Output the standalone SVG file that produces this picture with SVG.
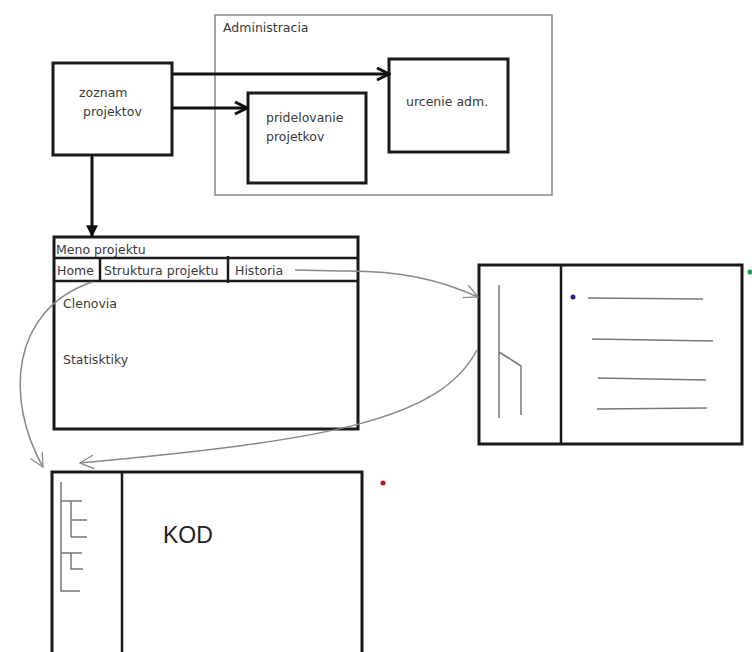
<svg xmlns="http://www.w3.org/2000/svg" width="752" height="652" viewBox="0 0 752 652">
<style>
.box{fill:#fff;stroke:#1a1a1a;stroke-width:3}
.thin{fill:none;stroke:#1a1a1a;stroke-width:2.5}
.t{font-family:"DejaVu Sans","Liberation Sans",sans-serif;font-size:12.5px;fill:#3a3a3a}
.g{fill:none;stroke:#777;stroke-width:1.5}
.arr{fill:none;stroke:#111;stroke-width:3}
.cur{fill:none;stroke:#888;stroke-width:1.5}
</style>
<defs>
<marker id="ah" viewBox="0 0 10 10" refX="9" refY="5" markerWidth="5" markerHeight="5" orient="auto" markerUnits="strokeWidth">
<path d="M1,1 L9,5 L1,9" fill="none" stroke="#111" stroke-width="2"/>
</marker>
<marker id="ahd" viewBox="0 0 10 10" refX="9" refY="5" markerWidth="4" markerHeight="4" orient="auto" markerUnits="strokeWidth">
<path d="M0,0 L10,5 L0,10 Z" fill="#111"/>
</marker>
<marker id="ao" viewBox="0 0 20 20" refX="18" refY="10" markerWidth="13" markerHeight="13" orient="auto" markerUnits="strokeWidth">
<path d="M4,3 L18,10 L4,17" fill="none" stroke="#888" stroke-width="1.3"/>
</marker>
</defs>

<g id="administracia">
<rect x="215" y="15" width="337" height="180" fill="none" stroke="#888" stroke-width="1.5"/>
<text class="t" x="223" y="32">Administracia</text>
</g>

<g id="zoznam">
<rect class="box" x="53" y="63" width="119" height="92"/>
<text class="t" x="79" y="97">zoznam</text>
<text class="t" x="83" y="116">projektov</text>
</g>

<g id="pridelovanie">
<rect class="box" x="248" y="93" width="118" height="90"/>
<text class="t" x="266" y="122">pridelovanie</text>
<text class="t" x="266" y="141">projetkov</text>
</g>

<g id="urcenie">
<rect class="box" x="389" y="59" width="119" height="93"/>
<text class="t" x="406" y="106">urcenie adm.</text>
</g>

<g id="projekt">
<rect class="box" x="54" y="237" width="304" height="192"/>
<line class="thin" x1="54" y1="258" x2="358" y2="258"/>
<line class="thin" x1="54" y1="281" x2="358" y2="281"/>
<line class="thin" x1="100" y1="257" x2="100" y2="282"/>
<line class="thin" x1="228" y1="256" x2="228" y2="283"/>
<text class="t" x="56" y="254">Meno projektu</text>
<text class="t" x="57" y="275">Home</text>
<text class="t" x="104" y="275">Struktura projektu</text>
<text class="t" x="235" y="275">Historia</text>
<text class="t" x="63" y="308">Clenovia</text>
<text class="t" x="63" y="364">Statisktiky</text>
</g>

<g id="historia-view">
<rect class="box" x="479" y="265" width="263" height="179"/>
<line class="thin" x1="561" y1="265" x2="561" y2="444"/>
<path class="g" d="M499,285 V418 M499,352 L521,366 V415"/>
<path class="g" d="M588,298 L703,299 M592,339 L713,341 M598,378 L706,380 M597,409 L707,408"/>
<circle cx="573" cy="297" r="2.5" fill="#22228a"/>
<circle cx="750" cy="272" r="2.5" fill="#2a9a50"/>
</g>

<g id="kod-view">
<rect class="box" x="52" y="472" width="310" height="190"/>
<line class="thin" x1="122" y1="472" x2="122" y2="652"/>
<path class="g" d="M61,482 V591 H80 M61,501 H82 M71,501 V537 M71,520 H87 M71,537 H87 M61,553 H82 M71,553 V569 H83"/>
<text x="163" y="543" style="font-family:'Liberation Sans','DejaVu Sans',sans-serif;font-size:23px;fill:#222">KOD</text>
<circle cx="383" cy="483" r="2.5" fill="#b01818"/>
</g>

<g id="connectors">
<path class="arr" d="M172,74 H389" marker-end="url(#ah)"/>
<path class="arr" d="M172,108 H247" marker-end="url(#ah)"/>
<path class="arr" d="M92,155 V236" marker-end="url(#ahd)"/>
<path class="cur" d="M295,270 L340,271 C400,270 440,280 478,297" marker-end="url(#ao)"/>
<path class="cur" d="M92,282 C10,310 5,400 43,467" marker-end="url(#ao)"/>
<path class="cur" d="M477,350 C440,420 330,440 80,463" marker-end="url(#ao)"/>
</g>
</svg>
